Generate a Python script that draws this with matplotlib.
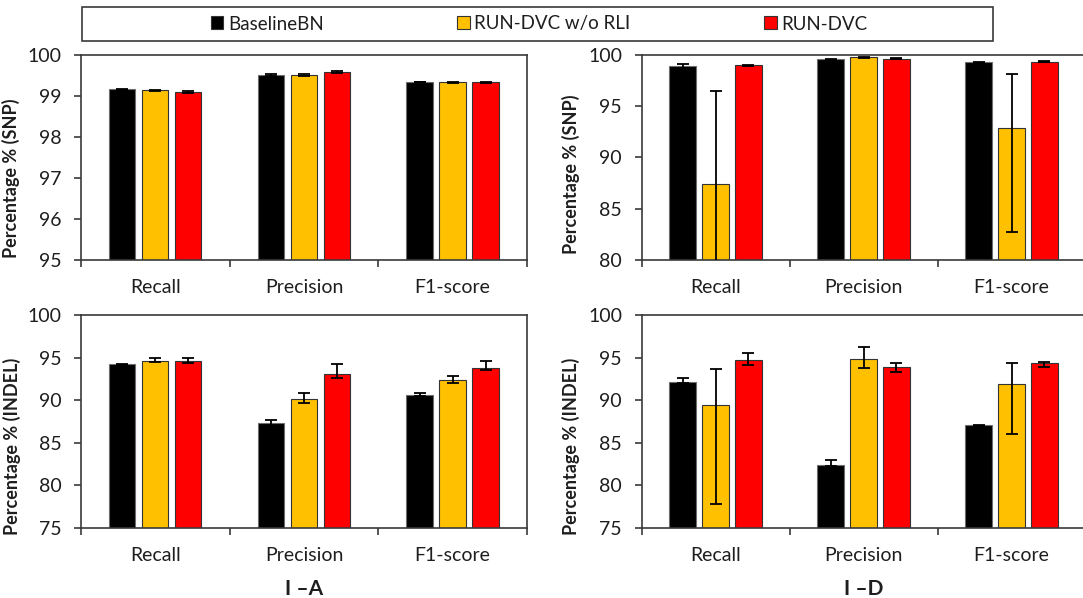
import matplotlib
matplotlib.use("Agg")
import matplotlib.pyplot as plt
import numpy as np
from matplotlib.patches import Patch, Rectangle

plt.rcParams['font.family'] = ['Lato', 'DejaVu Sans']

W, H = 1083, 598

categories = ['Recall', 'Precision', 'F1-score']
series = ['BaselineBN', 'RUN-DVC w/o RLI', 'RUN-DVC']
colors = ['#000000', '#FFC000', '#FF0000']
edge_colors = ['#6e6e6e', '#333333', '#333333']

# SNP, I-A
snp_a_base = [99.16, 99.52, 99.34]
snp_a_base_lo = [0.01, 0.02, 0.01]
snp_a_base_hi = [0.01, 0.02, 0.01]
snp_a_wo = [99.14, 99.52, 99.33]
snp_a_wo_lo = [0.01, 0.02, 0.01]
snp_a_wo_hi = [0.01, 0.02, 0.01]
snp_a_run = [99.10, 99.58, 99.33]
snp_a_run_lo = [0.02, 0.03, 0.01]
snp_a_run_hi = [0.02, 0.03, 0.01]

# SNP, I-D
snp_d_base = [98.9, 99.58, 99.28]
snp_d_base_lo = [0.2, 0.05, 0.05]
snp_d_base_hi = [0.2, 0.05, 0.05]
snp_d_wo = [87.45, 99.8, 92.9]
snp_d_wo_lo = [9.05, 0.05, 10.2]
snp_d_wo_hi = [9.05, 0.05, 5.2]
snp_d_run = [99.0, 99.64, 99.35]
snp_d_run_lo = [0.05, 0.03, 0.03]
snp_d_run_hi = [0.05, 0.03, 0.03]

# INDEL, I-A
indel_a_base = [94.2, 87.3, 90.63]
indel_a_base_lo = [0.05, 0.3, 0.15]
indel_a_base_hi = [0.05, 0.4, 0.15]
indel_a_wo = [94.65, 90.15, 92.36]
indel_a_wo_lo = [0.2, 0.5, 0.31]
indel_a_wo_hi = [0.27, 0.7, 0.47]
indel_a_run = [94.55, 93.1, 93.8]
indel_a_run_lo = [0.16, 0.47, 0.27]
indel_a_run_hi = [0.35, 1.14, 0.74]

# INDEL, I-D
indel_d_base = [92.16, 82.4, 87.03]
indel_d_base_lo = [0.1, 0.2, 0.05]
indel_d_base_hi = [0.39, 0.5, 0.05]
indel_d_wo = [89.42, 94.79, 91.85]
indel_d_wo_lo = [11.63, 1.06, 5.8]
indel_d_wo_hi = [4.18, 1.49, 2.47]
indel_d_run = [94.7, 93.89, 94.32]
indel_d_run_lo = [0.6, 0.55, 0.39]
indel_d_run_hi = [0.87, 0.43, 0.19]

panels = [
    # (box in pixels: left, top, right, bottom), ylim, yticks, ylabel, data, ylabel centre
    ((80.9, 55, 527, 260), (95, 100), [95, 96, 97, 98, 99, 100], 'Percentage % (SNP)',
     [(snp_a_base, snp_a_base_lo, snp_a_base_hi), (snp_a_wo, snp_a_wo_lo, snp_a_wo_hi),
      (snp_a_run, snp_a_run_lo, snp_a_run_hi)], (19.8, 178)),
    ((641.5, 55, 1085.5, 260), (80, 100), [80, 85, 90, 95, 100], 'Percentage % (SNP)',
     [(snp_d_base, snp_d_base_lo, snp_d_base_hi), (snp_d_wo, snp_d_wo_lo, snp_d_wo_hi),
      (snp_d_run, snp_d_run_lo, snp_d_run_hi)], (580, 174)),
    ((80.9, 315, 527, 527.7), (75, 100), [75, 80, 85, 90, 95, 100], 'Percentage % (INDEL)',
     [(indel_a_base, indel_a_base_lo, indel_a_base_hi), (indel_a_wo, indel_a_wo_lo, indel_a_wo_hi),
      (indel_a_run, indel_a_run_lo, indel_a_run_hi)], (21, 446)),
    ((641.5, 315, 1085.5, 527.7), (75, 100), [75, 80, 85, 90, 95, 100], 'Percentage % (INDEL)',
     [(indel_d_base, indel_d_base_lo, indel_d_base_hi), (indel_d_wo, indel_d_wo_lo, indel_d_wo_hi),
      (indel_d_run, indel_d_run_lo, indel_d_run_hi)], (580.5, 446)),
]

fig = plt.figure(figsize=(W / 100, H / 100), dpi=100)

bar_w = 0.178
offsets = [-0.222, 0.0, 0.222]
x = np.arange(len(categories))
spine_c = '#3a3a3a'
text_c = '#1e1e1e'

for (l, t, r, b), ylim, yticks, ylabel, data, lab_xy in panels:
    ax = fig.add_axes([l / W, 1 - b / H, (r - l) / W, (b - t) / H])
    for k, (vals, lo, hi) in enumerate(data):
        ax.bar(x + offsets[k], vals, bar_w, color=colors[k], edgecolor=edge_colors[k],
               linewidth=0.8, zorder=2, label=series[k])
        ax.errorbar(x + offsets[k], vals, yerr=[lo, hi], fmt='none', ecolor='black',
                    elinewidth=1.3, capsize=4, capthick=1.3, zorder=3)
    ax.set_xlim(-0.5, 2.5)
    ax.set_ylim(*ylim)
    ax.set_yticks(yticks)
    ax.set_xticks(x)
    ax.set_xticklabels(categories)
    ax.set_xticks([-0.5, 0.5, 1.5, 2.5], minor=True)
    ax.tick_params(axis='x', which='major', length=0, pad=14, labelsize=14, colors=text_c)
    ax.tick_params(axis='x', which='minor', length=5, width=1.2, direction='out', color=spine_c)
    ax.tick_params(axis='y', length=5, width=1.2, direction='out', pad=9, labelsize=14,
                   color=spine_c, labelcolor=text_c)
    for s in ax.spines.values():
        s.set_linewidth(1.2)
        s.set_color(spine_c)
    ax.set_ylabel(ylabel, fontsize=13, fontweight='bold', color=text_c)
    lx = (lab_xy[0] - l) / (r - l)
    ly = (b - lab_xy[1]) / (b - t)
    ax.yaxis.set_label_coords(lx, ly)

# Legend frame and entries across the top
fig.add_artist(Rectangle((81.6 / W, 1 - 41 / H), (992.6 - 81.6) / W, 34 / H,
                         transform=fig.transFigure, fill=False, edgecolor=spine_c, linewidth=1.2))
handles = [Patch(facecolor=c, edgecolor='#333333', linewidth=0.8) for c in colors]
fig.legend(handles, series, loc='center', bbox_to_anchor=(539 / W, 1 - 24 / H), ncol=3,
           frameon=False, fontsize=13.5, columnspacing=7.1, handlelength=0.68, handleheight=0.68,
           handletextpad=0.25, borderpad=0, labelcolor=text_c)

fig.text(304 / W, 1 - 579 / H, 'I –A', ha='center', va='top', fontsize=15, fontweight='bold',
         color=text_c)
fig.text(864 / W, 1 - 579 / H, 'I –D', ha='center', va='top', fontsize=15, fontweight='bold',
         color=text_c)

fig.savefig('out.png', dpi=100)
